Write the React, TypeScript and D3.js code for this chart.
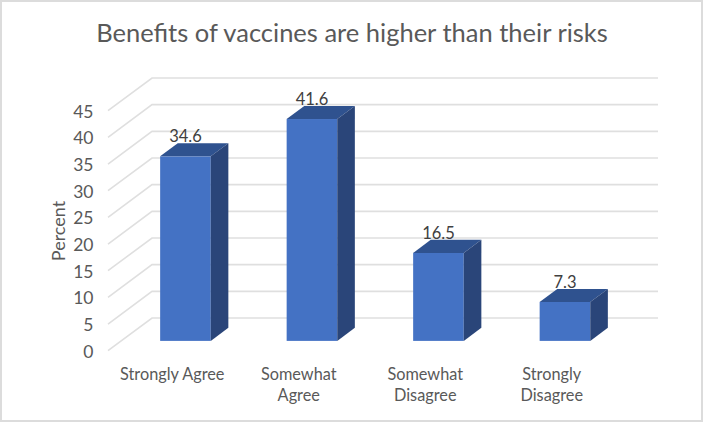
import { scaleBand, scaleLinear, range } from "d3";

const categories = [["Strongly Agree"], ["Somewhat", "Agree"], ["Somewhat", "Disagree"], ["Strongly", "Disagree"]];
const values = [34.6, 41.6, 16.5, 7.3];
const valueLabels = ["34.6", "41.6", "16.5", "7.3"];
const yTicks = range(0, 50, 5);

const W = 703;
const H = 422;
const font = "Lato, 'Open Sans', sans-serif";

// front plane of the fake 3D box, depth goes up and to the right
const plotLeft = 108;
const plotRight = 614;
const depthX = 44;
const depthY = -32.7;
const barDepthStart = 0.3;
const barDepth = 0.4;

const x = scaleBand<number>()
  .domain(categories.map((_, i) => i))
  .range([plotLeft + 1, plotRight + 1])
  .paddingInner(0.6)
  .paddingOuter(0.3);
const y = scaleLinear().domain([0, 45]).range([350.7, 110.7]);

const gridColor = "#dfdfdf";

export default function App() {
  const bw = x.bandwidth();
  return (
    <svg
      width={W}
      height={H}
      style={{ position: "absolute", left: 0, top: 0, background: "#fff" }}
      fontFamily={font}
    >
      <rect x={1} y={1} width={W - 2} height={H - 2} fill="#fff" stroke="#dcdcdc" strokeWidth={2} />

      <text x={352} y={42} textAnchor="middle" fontSize={25.5} fill="#595959">
        Benefits of vaccines are higher than their risks
      </text>

      {yTicks.map((t) => (
        <g key={t}>
          <path
            d={`M${plotLeft},${y(t)}l${depthX},${depthY}H${plotRight + depthX}`}
            fill="none"
            stroke={gridColor}
            strokeWidth={1.6}
          />
          <text x={93.5} y={y(t) + 1} dy="0.35em" textAnchor="end" fontSize={17.5} fill="#595959">
            {t}
          </text>
        </g>
      ))}

      <text
        transform="translate(65,231) rotate(-90)"
        textAnchor="middle"
        fontSize={18}
        fill="#595959"
      >
        Percent
      </text>

      {values.map((v, i) => {
        const x0 = x(i)! + depthX * barDepthStart;
        const yBase = y(0) + depthY * barDepthStart;
        const yTop = yBase - (y(0) - y(v));
        const dx = depthX * barDepth;
        const dy = depthY * barDepth;
        return (
          <g key={i}>
            <rect x={x0} y={yTop} width={bw} height={yBase - yTop} fill="#4472c4" />
            <path
              d={`M${x0},${yTop}l${dx},${dy}h${bw}l${-dx},${-dy}Z`}
              fill="#2f528f"
            />
            <path
              d={`M${x0 + bw},${yTop}l${dx},${dy}V${yBase + dy}l${-dx},${-dy}Z`}
              fill="#2a4579"
            />
            <text
              x={x0 + bw / 2}
              y={yTop - 14}
              textAnchor="middle"
              fontSize={16.5}
              fill="#404040"
            >
              {valueLabels[i]}
            </text>
          </g>
        );
      })}

      {categories.map((lines, i) => (
        <text
          key={i}
          x={x(i)! + bw / 2}
          y={380}
          textAnchor="middle"
          fontSize={16.3}
          fill="#595959"
        >
          {lines.map((l, j) => (
            <tspan key={j} x={x(i)! + bw / 2} dy={j === 0 ? 0 : 21}>
              {l}
            </tspan>
          ))}
        </text>
      ))}
    </svg>
  );
}
